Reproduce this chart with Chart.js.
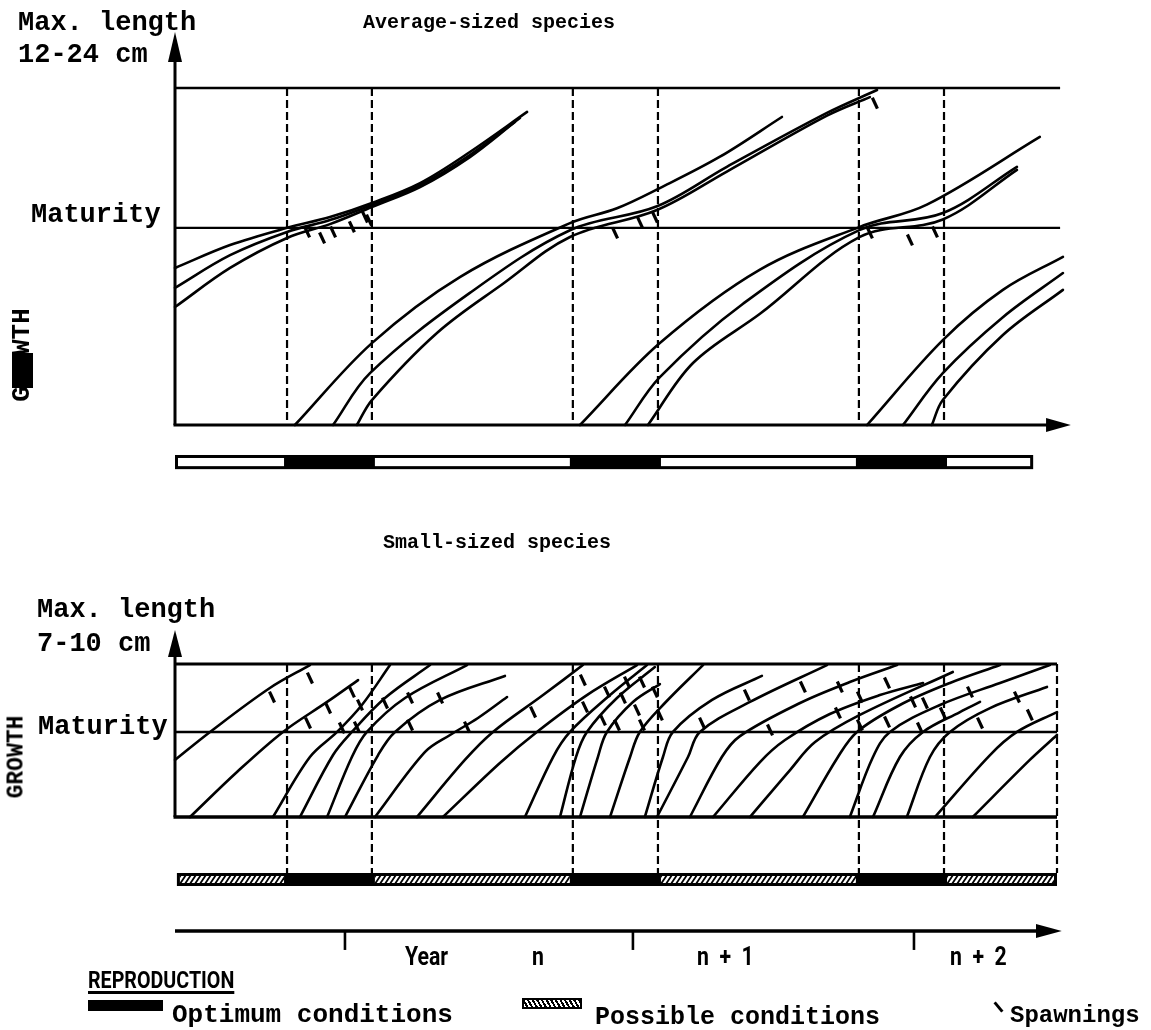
<!DOCTYPE html>
<html><head><meta charset="utf-8">
<script src="https://cdn.jsdelivr.net/npm/chart.js@4.4.1/dist/chart.umd.min.js"></script>
<style>
html,body{margin:0;padding:0;background:#fff}
body{width:1151px;height:1030px;position:relative;overflow:hidden;color:#000;font-family:"Liberation Mono","DejaVu Sans Mono",monospace}
canvas{position:absolute;left:0}
.t{position:absolute;white-space:pre;font-weight:bold;line-height:1}
.rot{position:absolute;white-space:pre;font-weight:bold;line-height:1;transform:translate(-50%,-50%) rotate(-90deg)}
.c{position:absolute;white-space:pre;font-family:Roboto,"DejaVu Sans",sans-serif;font-weight:700;line-height:1;transform-origin:0 0}
</style></head><body>
<canvas id="topChart" width="1151" height="500" style="top:0"></canvas>
<canvas id="botChart" width="1151" height="530" style="top:500px"></canvas>

<div class="t" style="left:18px;top:10px;font-size:27px">Max. length</div>
<div class="t" style="left:18px;top:42px;font-size:27px">12-24 cm</div>
<div class="t" style="left:363px;top:13px;font-size:20px">Average-sized species</div>
<div class="t" style="left:31px;top:202px;font-size:27px">Maturity</div>
<div class="rot" style="left:22px;top:355px;font-size:26px">GROWTH</div>
<div style="position:absolute;left:12px;top:353px;width:21px;height:35px;background:#000"></div>

<div class="t" style="left:383px;top:533px;font-size:20px">Small-sized species</div>
<div class="t" style="left:37px;top:597px;font-size:27px">Max. length</div>
<div class="t" style="left:37px;top:631px;font-size:27px">7-10 cm</div>
<div class="t" style="left:38px;top:714px;font-size:27px">Maturity</div>
<div class="rot" style="left:17px;top:757px;font-size:23px">GROWTH</div>

<div class="c" style="left:405px;top:944px;font-size:25px;transform:scaleX(0.85)">Year</div>
<div class="c" style="left:532px;top:944px;font-size:25px;transform:scaleX(0.85)">n</div>
<div class="c" style="left:697px;top:944px;font-size:25px;transform:scaleX(0.85)">n  +  1</div>
<div class="c" style="left:950px;top:944px;font-size:25px;transform:scaleX(0.85)">n  +  2</div>

<div class="c" style="left:88px;top:968px;font-size:24px;transform:scaleX(0.82);text-decoration:underline;text-decoration-thickness:3px;text-underline-offset:3px">REPRODUCTION</div>
<div style="position:absolute;left:88px;top:1000px;width:75px;height:11px;background:#000"></div>
<div class="t" style="left:172px;top:1002px;font-size:26px">Optimum conditions</div>
<div style="position:absolute;left:522px;top:998px;width:56px;height:7px;border:2px solid #000;background:repeating-linear-gradient(60deg,#fff 0 2px,#000 2px 4px)"></div>
<div class="t" style="left:595px;top:1005px;font-size:25px">Possible conditions</div>
<div style="position:absolute;left:997px;top:1001px;width:3px;height:12px;background:#000;transform:rotate(-40deg)"></div>
<div class="t" style="left:1010px;top:1004px;font-size:24px">Spawnings</div>

<script>
// ---------------- shared time data (months from left axis) ----------------
const TIME_MAX = 37;                               // right edge of the panels
const OPTIMUM_WINDOWS = [[4.7, 8.26], [16.69, 20.26], [28.69, 32.26]];
const YEAR_TICKS = [7.13, 19.21, 31.0];

// ---------------- top panel: average-sized species ----------------
const TOP_MAX = 100;          // growth, % of max length
const TOP_MATURITY = 58.5;
const TOP_SEASON_SPAN = [0, 36];
const TOP_SEASON_Y = [-8.9, -13.1];

const avgOld1 = [[0,46.6],[2.31,53.4],[4.7,58.5],[6.5,61.7],[8.26,65.9],[10.28,71.8],[12.37,81],[14.77,92.9]];
const avgOld2 = [[0,40.7],[2.31,50.4],[4.7,57.3],[6.5,60.8],[8.26,65.3],[10.28,71.2],[12.37,80.1],[14.47,91.1]];
const avgOld3 = [[0,35],[2.31,46.6],[4.7,55.5],[6.5,59.6],[8.26,64.7],[10.28,70.6],[12.37,79.5],[14.26,89.9]];

const avgY1a = [[5.03,0],[8.26,24.3],[11.95,43.9],[16.57,59.9],[18.54,64.3],[20.34,70.3],[22.86,79.6],[25.46,91.4]];
const avgY1b = [[6.63,0],[8.18,15.4],[12.37,39.2],[16.57,57.8],[20.22,64.9],[23.15,76.6],[27.35,92.6],[29.45,99.4]];
const avgY1c = [[7.63,0],[8.26,7.4],[10.99,27.3],[13.76,41.9],[16.57,55.8],[20.22,63.8],[23.15,75.2],[27.35,91.8],[29.15,97.3]];

const avgY2a = [[16.99,0],[20.34,24.3],[24.54,46.1],[28.73,58.8],[31.54,65.4],[36.28,85.5]];
const avgY2b = [[18.88,0],[20.34,14.2],[23.83,36],[28.73,57.9],[32.21,62.9],[35.32,76.6]];
const avgY2c = [[19.84,0],[21.73,18.4],[24.54,33],[28.73,55.8],[32.21,61],[35.32,75.7]];

const avgY3a = [[29.03,0],[32.21,25.2],[34.73,40.1],[37.25,49.9]];
const avgY3b = [[30.54,0],[32.21,15.4],[34.73,32],[37.25,45.1]];
const avgY3c = [[31.75,0],[32.21,7.4],[34.73,26.7],[37.25,40.1]];

const avgSpawnings = [[5.54,57.3],[6.17,55.5],[6.63,57.3],[7.42,58.8],[7.97,61.7],[8.14,60.8],
  [18.46,57],[19.5,60.2],[20.13,61.7],[29.15,57],[30.83,54.9],[31.88,57.3],[29.36,95.5]];

// ---------------- bottom panel: small-sized species ----------------
const BOT_MAX = 100;
const BOT_MATURITY = 55.6;
const BOT_SEASON_SPAN = [0.08, 37];
const BOT_SEASON_Y = [-36.6, -45.1];
const TIME_AXIS_Y = -74.5;

const smallCurves = [
  [[0,37.3],[1.47,55.6],[3.98,84.3],[5.66,99.3]],
  [[0.63,0],[2.6,29.4],[4.53,55.6],[6.38,75.2],[7.68,89.5]],
  [[4.11,0],[5.66,39.2],[6.8,55.6],[7.84,73.2],[9.02,99.3]],
  [[5.24,0],[6.63,40.5],[7.42,55.6],[8.81,77.8],[10.7,99.3]],
  [[6.38,0],[7.42,39.2],[8.05,55.6],[9.65,77.8],[12.25,99.3]],
  [[7.13,0],[8.52,40.5],[9.23,55.6],[11.12,76.5],[13.84,92.2]],
  [[8.39,0],[10.49,42.5],[11.54,53.6],[12.71,64.7],[13.93,78.4]],
  [[10.15,0],[12.16,37.3],[13.34,55.6],[15.44,79.7],[17.11,99.3]],
  [[11.24,0],[13.63,35.3],[15.18,55.6],[17.28,79.7],[19.38,99.3]],
  [[14.68,0],[15.86,39.2],[16.57,55.6],[18.25,79.7],[19.8,99.3]],
  [[16.15,0],[16.82,39.2],[17.28,55.6],[18.54,77.8],[20.13,98]],
  [[16.99,0],[17.74,39.2],[18.12,55.6],[19.21,75.2],[20.34,86.9]],
  [[18.25,0],[19.09,39.2],[19.5,55.6],[20.55,74.5],[22.15,99.3]],
  [[19.71,0],[20.47,39.2],[20.89,55.6],[22.53,76.5],[24.62,92.2]],
  [[20.22,0],[21.52,39.2],[22.02,55.6],[24.12,75.2],[27.35,99.3]],
  [[21.6,0],[22.94,39.2],[23.7,52.9],[26.22,74.5],[28.31,88.2],[30.29,99.3]],
  [[22.57,0],[24.54,35.9],[25.59,50.3],[27.47,67.3],[29.57,79.7],[31.38,87.6]],
  [[24.12,0],[25.8,30.7],[26.85,49],[28.73,66.7],[32.63,94.8]],
  [[26.34,0],[27.81,39.2],[28.61,55.6],[30.41,73.2],[32.51,87.6],[34.61,99.3]],
  [[28.31,0],[29.28,39.2],[29.99,55.6],[32.09,73.2],[34.61,87.6],[36.7,99.3]],
  [[29.28,0],[30.41,39.2],[31.38,55.6],[32.93,68.6],[33.77,75.2]],
  [[30.7,0],[31.67,39.2],[32.51,55.6],[34.19,71.2],[36.58,85]],
  [[31.88,0],[34.19,40.5],[35.32,55.6],[37,68.6]],
  [[33.47,0],[35.86,37.3],[37,53.6]]
];

const smallSpawnings = [[4.07,78.4],[5.66,90.8],[5.58,61.4],[6.42,71.2],[7.42,81.7],[7.0,58.2],[7.76,73.2],
  [8.81,74.5],[7.63,58.8],[9.86,77.8],[9.86,60.1],[11.12,77.8],[12.25,58.8],[15.02,68.6],[17.11,89.5],
  [17.2,71.9],[18.12,81.7],[18.96,88.2],[18.79,77.8],[19.59,88.2],[19.38,69.9],[17.95,63.4],[18.54,60.1],
  [19.59,60.1],[20.13,81.7],[20.34,66.7],[22.11,61.4],[23.99,79.7],[24.96,56.9],[26.34,85],[27.89,85],
  [27.81,68],[28.73,78.4],[28.73,60.1],[29.87,87.6],[29.87,62.1],[30.96,75.2],[31.46,74.5],[31.25,58.2],
  [32.21,68],[33.35,81.7],[33.77,61.4],[35.32,78.4],[35.86,66.7]];

// ---------------- helpers ----------------
function curveDs(arr){
  return {data: arr.map(([x,y]) => ({x, y})), borderColor:'#000', borderWidth:2.6,
    pointRadius:0, tension:0.35, fill:false, clip:false, borderCapStyle:'round'};
}
function spawnDs(arr){
  return {data: arr.map(([x,y]) => ({x, y})), showLine:false, pointStyle:'line', pointRotation:65,
    pointRadius:6, pointBorderWidth:3.2, pointBorderColor:'#000', borderColor:'#000', clip:false};
}
function mappers(c){
  const xs = c.scales.x, ys = c.scales.y;
  return [v => xs.getPixelForValue(v), v => ys.getPixelForValue(v)];
}
function seg(ctx, x0, y0, x1, y1, w){
  ctx.beginPath(); ctx.moveTo(x0, y0); ctx.lineTo(x1, y1); ctx.lineWidth = w; ctx.stroke();
}
function tri(ctx, pts){
  ctx.fillStyle = '#000';
  ctx.beginPath(); ctx.moveTo(pts[0][0], pts[0][1]);
  for (let i = 1; i < pts.length; i++) ctx.lineTo(pts[i][0], pts[i][1]);
  ctx.closePath(); ctx.fill();
}
function gaps(span, wins){
  const out = []; let s = span[0];
  wins.forEach(([a,b]) => { out.push([s, a]); s = b; });
  out.push([s, span[1]]); return out;
}
function seasonBar(ctx, X, Y, span, yr, hatched){
  const x0 = X(span[0]), x1 = X(span[1]), yt = Y(yr[0]), yb = Y(yr[1]);
  ctx.save();
  ctx.fillStyle = '#000'; ctx.fillRect(x0, yt, x1 - x0, yb - yt);
  gaps(span, OPTIMUM_WINDOWS).forEach(([a,b]) => {
    const ax = X(a) + 3, bx = X(b) - 3, it = yt + 3, ib = yb - 3;
    ctx.fillStyle = '#fff'; ctx.fillRect(ax, it, bx - ax, ib - it);
    if (hatched){
      ctx.save(); ctx.beginPath(); ctx.rect(ax, it, bx - ax, ib - it); ctx.clip();
      ctx.strokeStyle = '#000';
      for (let x = ax - 10; x < bx + 10; x += 5){ seg(ctx, x, ib + 1, x + 6, it - 1, 1.8); }
      ctx.restore();
    }
  });
  ctx.restore();
}

const topDeco = {
  id:'topDeco',
  beforeDatasetsDraw(c){
    const ctx = c.ctx, [X, Y] = mappers(c);
    ctx.save(); ctx.strokeStyle = '#000'; ctx.setLineDash([8,4]);
    OPTIMUM_WINDOWS.flat().forEach(m => seg(ctx, X(m), Y(TOP_MAX), X(m), Y(0), 2.2));
    ctx.restore();
  },
  afterDatasetsDraw(c){
    const ctx = c.ctx, [X, Y] = mappers(c);
    ctx.save(); ctx.strokeStyle = '#000'; ctx.lineCap = 'butt';
    seg(ctx, X(0), Y(TOP_MAX), X(37.13), Y(TOP_MAX), 2.6);
    seg(ctx, X(0), Y(TOP_MATURITY), X(37.13), Y(TOP_MATURITY), 2.2);
    seg(ctx, X(0), Y(0), X(0), Y(108), 3);
    tri(ctx, [[X(0), Y(116.6)], [X(0) - 7, Y(107.7)], [X(0) + 7, Y(107.7)]]);
    seg(ctx, X(0) - 1.5, Y(0), X(36.6), Y(0), 3.2);
    tri(ctx, [[X(37.58), Y(0)], [X(36.54), Y(0) - 7], [X(36.54), Y(0) + 7]]);
    seasonBar(ctx, X, Y, TOP_SEASON_SPAN, TOP_SEASON_Y, false);
    ctx.restore();
  }
};

const botDeco = {
  id:'botDeco',
  beforeDatasetsDraw(c){
    const ctx = c.ctx, [X, Y] = mappers(c);
    ctx.save(); ctx.strokeStyle = '#000'; ctx.setLineDash([8,4]);
    OPTIMUM_WINDOWS.flat().concat([TIME_MAX]).forEach(m => seg(ctx, X(m), Y(BOT_MAX), X(m), Y(BOT_SEASON_Y[0]), 2.2));
    ctx.restore();
  },
  afterDatasetsDraw(c){
    const ctx = c.ctx, [X, Y] = mappers(c);
    ctx.save(); ctx.strokeStyle = '#000'; ctx.lineCap = 'butt';
    seg(ctx, X(0), Y(BOT_MAX), X(TIME_MAX), Y(BOT_MAX), 2.8);
    seg(ctx, X(0), Y(BOT_MATURITY), X(TIME_MAX), Y(BOT_MATURITY), 2.4);
    seg(ctx, X(0) - 1.5, Y(0), X(TIME_MAX), Y(0), 3.4);
    seg(ctx, X(0), Y(0), X(0), Y(106), 3);
    tri(ctx, [[X(0), Y(122.2)], [X(0) - 7, Y(104.6)], [X(0) + 7, Y(104.6)]]);
    seasonBar(ctx, X, Y, BOT_SEASON_SPAN, BOT_SEASON_Y, true);
    seg(ctx, X(0), Y(TIME_AXIS_Y), X(36.3), Y(TIME_AXIS_Y), 3.4);
    tri(ctx, [[X(37.2), Y(TIME_AXIS_Y)], [X(36.12), Y(TIME_AXIS_Y) - 7], [X(36.12), Y(TIME_AXIS_Y) + 7]]);
    YEAR_TICKS.forEach(m => seg(ctx, X(m), Y(TIME_AXIS_Y), X(m), Y(-86.9), 2.6));
    ctx.restore();
  }
};

function makeChart(id, datasets, ymax, pad, plugin){
  return new Chart(document.getElementById(id), {
    type:'line',
    data:{datasets},
    options:{
      responsive:false, animation:false, events:[],
      layout:{padding:pad},
      scales:{x:{type:'linear', min:0, max:TIME_MAX, display:false},
              y:{type:'linear', min:0, max:ymax, display:false}},
      plugins:{legend:{display:false}, tooltip:{enabled:false}}
    },
    plugins:[plugin]
  });
}

const topSets = [avgOld1, avgOld2, avgOld3, avgY1a, avgY1b, avgY1c, avgY2a, avgY2b, avgY2c, avgY3a, avgY3b, avgY3c]
  .map(curveDs).concat([spawnDs(avgSpawnings)]);
makeChart('topChart', topSets, TOP_MAX, {left:175, right:94, top:88, bottom:75}, topDeco);

const botSets = smallCurves.map(curveDs).concat([spawnDs(smallSpawnings)]);
makeChart('botChart', botSets, BOT_MAX, {left:175, right:94, top:164, bottom:213}, botDeco);
</script>
</body></html>
